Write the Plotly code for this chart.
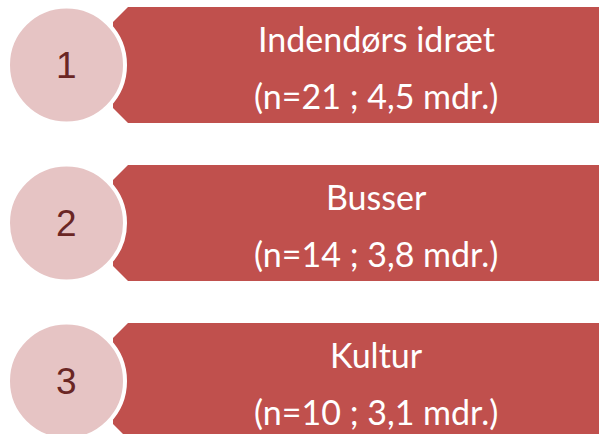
import plotly.graph_objects as go

ranks = ["1", "2", "3"]
categories = ["Indendørs idræt", "Busser", "Kultur"]
n_values = [21, 14, 10]
months = ["4,5", "3,8", "3,1"]

W, H = 599, 434
row_top = [7, 165, 323]
band_h = 116
circle_cx = 66.5
circle_r = 58.5
band_left = 113
chamfer = 15

RED = "#C0504D"
PINK = "#E6C4C4"
DARK = "#6A2624"

fig = go.Figure()
shapes = []
annotations = []
for i, (rk, cat, n, m) in enumerate(zip(ranks, categories, n_values, months)):
    t = row_top[i]
    b = t + band_h
    path = (f"M {band_left + chamfer},{t} L {W + 5},{t} L {W + 5},{b} L {band_left + chamfer},{b} "
            f"L {band_left},{b - chamfer} L {band_left},{t + chamfer} Z")
    shapes.append(dict(type="path", path=path, xref="x", yref="y",
                       fillcolor=RED, line=dict(width=0), layer="below"))
    cy = t + band_h / 2
    shapes.append(dict(type="circle", xref="x", yref="y",
                       x0=circle_cx - circle_r, x1=circle_cx + circle_r,
                       y0=cy - circle_r, y1=cy + circle_r,
                       fillcolor=PINK, line=dict(color="white", width=4)))
    annotations.append(dict(x=circle_cx, y=cy, xref="x", yref="y", text=rk,
                            showarrow=False, font=dict(family="Liberation Sans, Arial", size=37, color=DARK)))
    annotations.append(dict(x=376, y=t + 31, xref="x", yref="y", text=cat,
                            showarrow=False, font=dict(family="Lato, Open Sans", size=34, color="white")))
    annotations.append(dict(x=376, y=t + 88, xref="x", yref="y", text=f"(n={n} ; {m} mdr.)",
                            showarrow=False, font=dict(family="Lato, Open Sans", size=34, color="white")))

fig.update_layout(
    width=W, height=H,
    margin=dict(l=0, r=0, t=0, b=0),
    paper_bgcolor="white", plot_bgcolor="white",
    xaxis=dict(range=[0, W], visible=False, fixedrange=True),
    yaxis=dict(range=[H, 0], visible=False, fixedrange=True),
    shapes=shapes, annotations=annotations, showlegend=False,
)
fig.write_html("out.html", config={"displayModeBar": False},
               post_script="document.body.style.margin='0';document.body.style.overflow='hidden';")
